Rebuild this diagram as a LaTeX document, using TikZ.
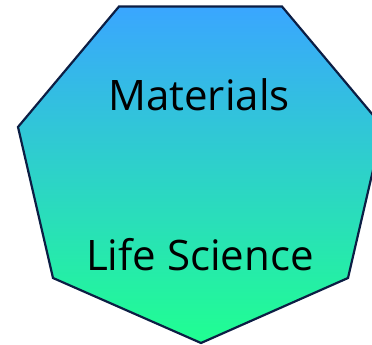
\documentclass[tikz,border=0pt]{standalone}
\usepackage{fontspec}
\setmainfont{Open Sans}
\definecolor{topc}{RGB}{58,166,255}
\definecolor{midc}{RGB}{44,206,226}
\definecolor{botc}{RGB}{32,255,145}
\definecolor{edgec}{RGB}{12,30,68}
\begin{document}
\begin{tikzpicture}[x=1pt,y=-1pt,
  lbl/.style={font=\fontsize{42}{48}\selectfont, text=black, inner sep=0pt, anchor=base}]
\useasboundingbox (0,0) rectangle (372,345);
\clip (0,0) rectangle (372,345);
\coordinate (p1) at (119,6.5);
\coordinate (p2) at (282,6.5);
\coordinate (p3) at (383,127);
\coordinate (p4) at (348,278);
\coordinate (p5) at (201,343);
\coordinate (p6) at (53,278);
\coordinate (p7) at (18,127);
\shade[top color=topc, middle color=midc, bottom color=botc, draw=edgec, line width=2.2pt, line join=miter]
  (p1) -- (p2) -- (p3) -- (p4) -- (p5) -- (p6) -- (p7) -- cycle;
\node[lbl] (mat) at (199,110) {Materials};
\node[lbl] (life) at (200,270) {Life Science};
\end{tikzpicture}
\end{document}
